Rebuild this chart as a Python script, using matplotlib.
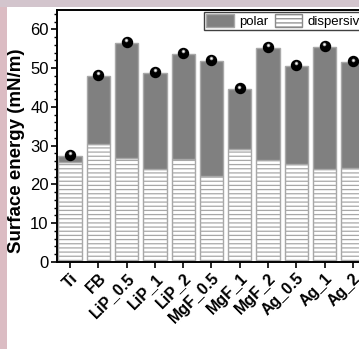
import matplotlib.pyplot as plt
import numpy as np
from matplotlib.patches import Rectangle, Patch
from matplotlib.transforms import offset_copy

plt.rcParams['font.family'] = ['Liberation Sans', 'DejaVu Sans']
plt.rcParams['hatch.linewidth'] = 0.9
plt.rcParams['hatch.color'] = '#6a6a6a'

samples = ['Ti', 'FB', 'LiP_0.5', 'LiP_1', 'LiP_2', 'MgF_0.5', 'MgF_1',
           'MgF_2', 'Ag_0.5', 'Ag_1', 'Ag_2']
total = np.array([27.3, 48.0, 56.6, 48.8, 53.6, 51.8, 44.5, 55.2, 50.5, 55.4, 51.5])
dispersive = np.array([25.7, 30.4, 26.9, 24.1, 26.5, 22.2, 29.1, 26.2, 25.3, 23.9, 24.2])
polar = total - dispersive

fig = plt.figure(figsize=(3.59, 3.49), dpi=100)
fig.patch.set_facecolor('white')
# coloured frame strips along the top and left edges
fig.patches.append(Rectangle((0, 0), 7 / 359, 1, transform=fig.transFigure,
                             facecolor='#dbbcc3', edgecolor='none', zorder=-1))
fig.patches.append(Rectangle((0, 1 - 7 / 349), 1, 7 / 349, transform=fig.transFigure,
                             facecolor='#d3c5cd', edgecolor='none', zorder=-1))

ax = fig.add_axes([57 / 359, 87 / 349, 309 / 359, 252 / 349])
x = np.arange(len(samples))
w = 0.82
ax.bar(x, dispersive, w, color='white', edgecolor='#a8a8a8', hatch='----', lw=1.0)
ax.bar(x, polar, w, bottom=dispersive, color='#808080', edgecolor='#a8a8a8', lw=1.0)

# shaded balls marking the total surface energy
up = offset_copy(ax.transData, fig=fig, x=0, y=1, units='dots')
hl = offset_copy(ax.transData, fig=fig, x=-0.3, y=2.8, units='dots')
ax.plot(x, total, 'o', color='black', ms=7.2, transform=up, zorder=5)
ax.plot(x, total, 'o', color='#9a9a9a', ms=2.6, mew=0, transform=hl, zorder=6)
ax.plot(x, total, 'o', color='white', ms=1.3, mew=0, transform=hl, zorder=7)

ax.set_xlim(-0.46, 10.46)
ax.set_ylim(0, 65)
ax.set_yticks(np.arange(0, 61, 10))
ax.set_yticks(np.arange(0, 65, 2), minor=True)
ax.set_xticks(x)
ax.set_xticklabels(samples, rotation=45, ha='right', rotation_mode='anchor',
                   fontweight='bold', fontsize=11.5)
ax.tick_params(axis='y', labelsize=12, direction='out', length=4, width=1.2, pad=2)
ax.tick_params(axis='y', which='minor', length=2.5, width=1)
ax.tick_params(axis='x', direction='out', length=4, width=1.2, pad=2)
for s in ax.spines.values():
    s.set_linewidth(1.4)
ax.set_ylabel('Surface energy (mN/m)', fontweight='bold', fontsize=13.5)
ax.yaxis.set_label_coords(-0.105, 0.44)

handles = [Patch(facecolor='#808080', edgecolor='#a8a8a8', label='polar'),
           Patch(facecolor='white', edgecolor='#8a8a8a', hatch='----', label='dispersive')]
fig.legend(handles=handles, loc='upper left', bbox_to_anchor=(204 / 359, 1 - 12 / 349),
           ncol=2, fontsize=9.5, frameon=True, fancybox=False, edgecolor='#404040',
           framealpha=1, borderpad=0.15, handlelength=2.1, handleheight=1.15,
           handletextpad=0.4, columnspacing=0.5, borderaxespad=0)

fig.savefig('out.png', dpi=100)
